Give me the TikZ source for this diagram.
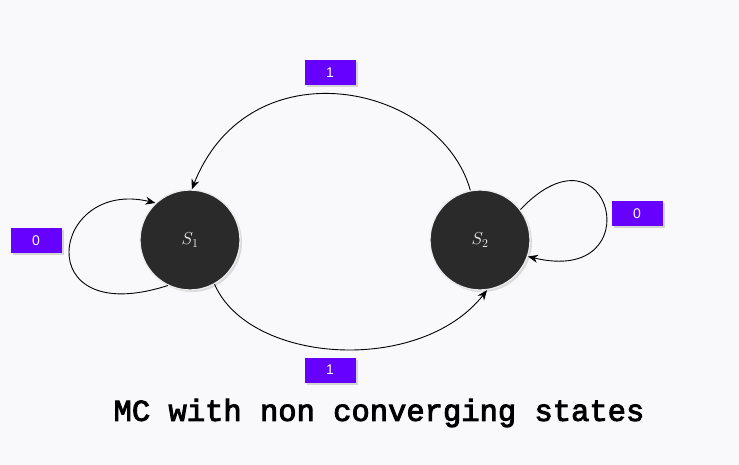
\documentclass[tikz,border=0pt]{standalone}
\usepackage{fontspec}
\newfontfamily\labfont{Liberation Sans}
\newfontfamily\titlefont[FakeBold=3]{Liberation Mono}
\usetikzlibrary{shadows,arrows.meta}
\definecolor{bg}{HTML}{F9F9FB}
\definecolor{statefill}{HTML}{2A2A2A}
\definecolor{labpurple}{HTML}{6600FF}
\tikzset{
  state/.style={circle, fill=statefill, draw=white!85!gray, line width=1.3pt, minimum size=100pt, inner sep=0pt, text=white!95!gray, font=\fontsize{18}{18}\selectfont,
    drop shadow={shadow xshift=2pt, shadow yshift=-2pt, opacity=0.25, fill=gray}},
  problab/.style={fill=labpurple, text=white, minimum width=51pt, minimum height=25pt, inner sep=0pt, font=\labfont\fontsize{14}{14}\selectfont,
    drop shadow={shadow xshift=2pt, shadow yshift=-2pt, opacity=0.3, fill=gray}},
  edge/.style={-{Stealth[length=10pt,width=8pt]}, line width=0.9pt, black},
}
\begin{document}
\begin{tikzpicture}[x=1pt,y=-1pt]
\fill[bg] (0,0) rectangle (739,465);
\useasboundingbox (0,0) rectangle (739,465);
\node[state] (s1) at (190,240) {$S_1$};
\node[state] (s2) at (480,240) {$S_2$};
\node[problab] (ltop) at (330,73) {1};
\node[problab] (lbot) at (330,370) {1};
\node[problab] (lleft) at (36,241) {0};
\node[problab] (lright) at (637,214) {0};
\draw[edge] (s2.101) .. controls +(-30,-107) and +(58,-146) .. (s1.88);
\draw[edge] (s1.-61) .. controls +(35,80) and +(-67,85) .. (s2.-82);
\draw[edge] (s1.-116) .. controls +(-140,45) and +(-105,-25) .. (s1.133);
\draw[edge] (s2.37) .. controls +(90,-95) and +(125,30) .. (s2.-19);
\node[font=\titlefont\fontsize{30.5}{30.5}\selectfont] (title) at (379,413) {MC with non converging states};
\end{tikzpicture}
\end{document}
